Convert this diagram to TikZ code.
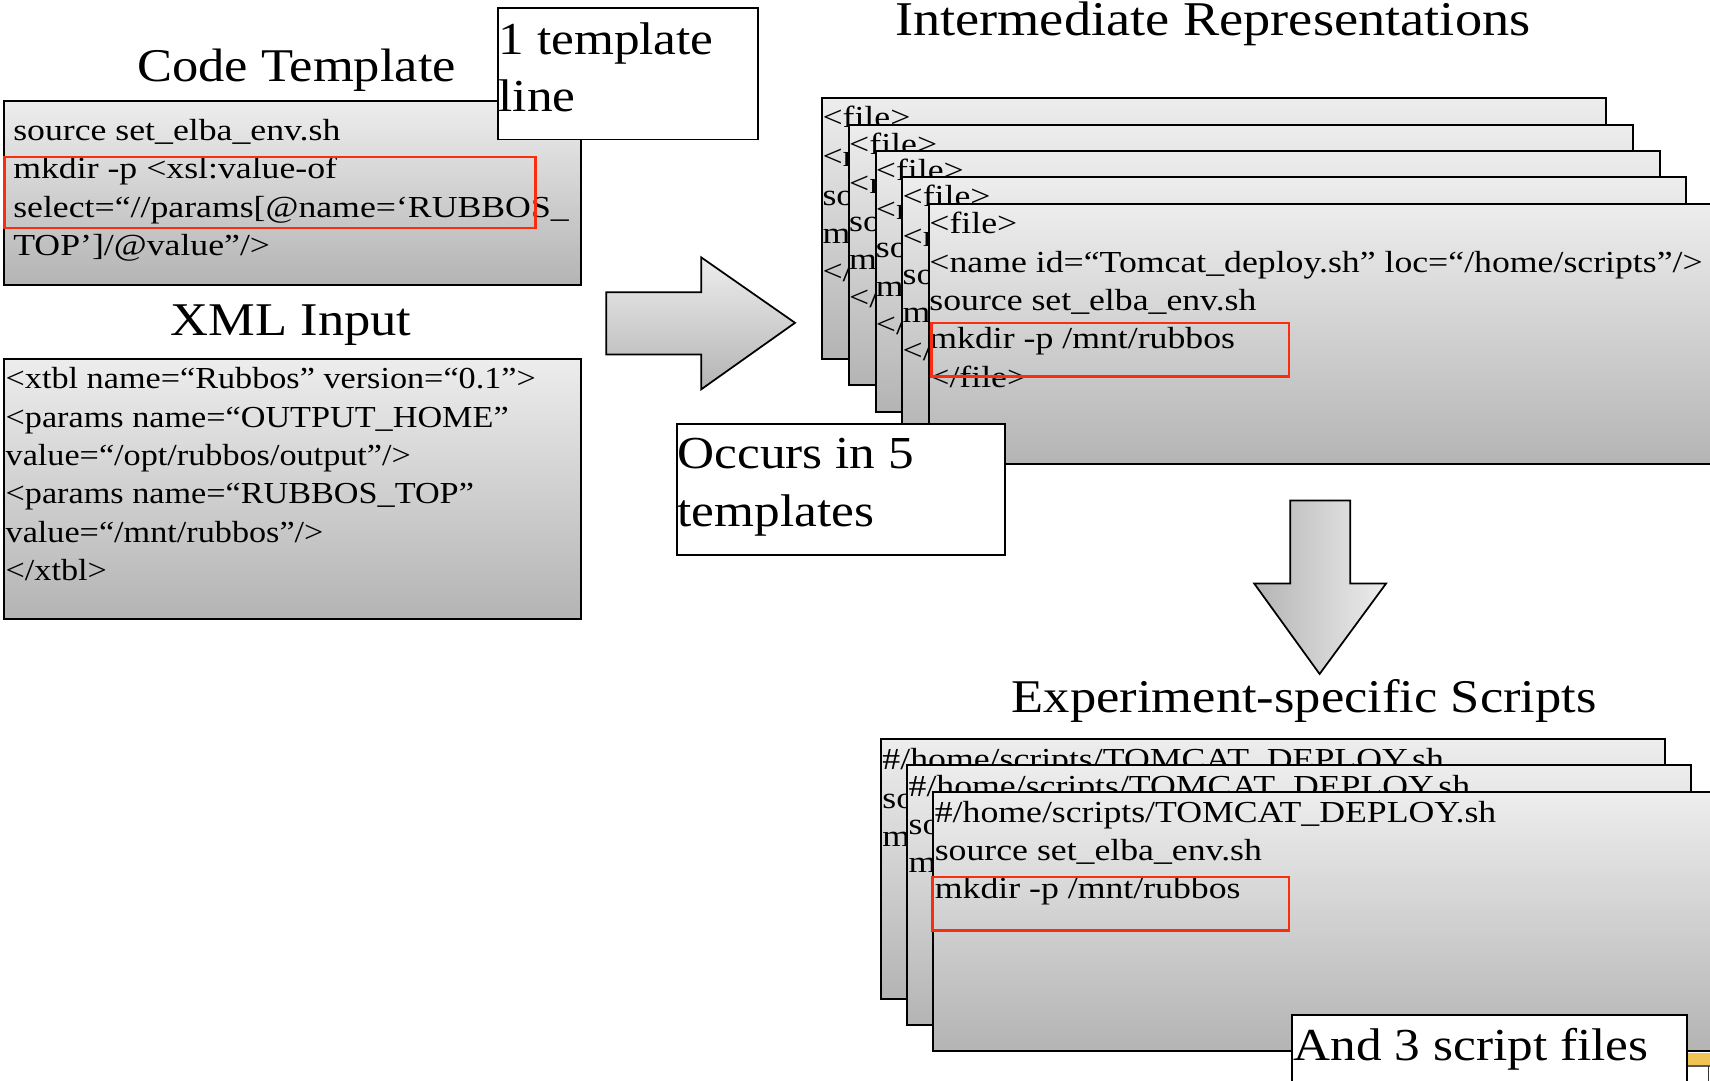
\documentclass[tikz,border=0pt]{standalone}
\usepackage{fontspec}
\setmainfont[FakeStretch=1.12]{Liberation Serif}
\newfontfamily\widefont[FakeStretch=1.17]{Liberation Serif}
\usetikzlibrary{calc}

\definecolor{boxtop}{RGB}{237,237,237}
\definecolor{boxbot}{RGB}{180,180,180}
\definecolor{hired}{RGB}{250,45,15}
\definecolor{winyellow}{RGB}{240,196,84}

\newcommand\codefont{\fontsize{28}{34}\selectfont}
\newcommand\widecodefont{\widefont\fontsize{28}{34}\selectfont}
\newcommand\bigfont{\fontsize{42}{52}\selectfont}
\newcommand\headfont{\fontsize{43}{52}\selectfont}

\tikzset{
  gbox/.style={draw=black, line width=1.8pt, top color=boxtop, bottom color=boxbot,
               inner sep=0pt, anchor=north west},
  wbox/.style={draw=black, line width=1.8pt, fill=white, inner sep=0pt, anchor=north west},
  hlbox/.style={draw=hired, line width=2.2pt, inner sep=0pt, anchor=north west},
  code/.style={font=\codefont, inner sep=0pt, anchor=base west},
  wcode/.style={font=\widecodefont, inner sep=0pt, anchor=base west},
  big/.style={font=\bigfont, inner sep=0pt, anchor=base west},
  head/.style={font=\headfont, inner sep=0pt, anchor=base},
  blockarrow/.style={draw=black, line width=1.6pt, line join=miter},
}

\begin{document}
\begin{tikzpicture}[x=1pt, y=-1pt]
\useasboundingbox (0,0) rectangle (1568,991);

% ---------- Code template ----------
\node[head] (cttitle) at (272,75) {Code Template};
\node[gbox, minimum width=529pt, minimum height=168pt] (ct) at (3,92) {};
\node[wcode] (ct1) at (12,129) {source set\_elba\_env.sh};
\node[wcode] (ct2) at (12,164) {mkdir -p <xsl:value-of};
\node[wcode] (ct3) at (12,199) {select=“//params[@name=‘RUBBOS\_};
\node[wcode] (ct4) at (12,234) {TOP’]/@value”/>};
\node[hlbox, minimum width=487pt, minimum height=65pt] (cthl) at (3,143) {};

% label: one template line
\node[wbox, minimum width=238pt, minimum height=121pt] (lblline) at (456,6) {};
\node[big] (lblline1) at (457,50) {1 template};
\node[big] (lblline2) at (457,102) {line};

% ---------- XML input ----------
\node[head] (xmltitle) at (267,308) {XML Input};
\node[gbox, minimum width=529pt, minimum height=239pt] (xml) at (3,328) {};
\node[code] (x1) at (5,356) {<xtbl name=“Rubbos” version=“0.1”>};
\node[code] (x2) at (5,392) {<params name=“OUTPUT\_HOME”};
\node[code] (x3) at (5,427) {value=“/opt/rubbos/output”/>};
\node[code] (x4) at (5,462) {<params name=“RUBBOS\_TOP”};
\node[code] (x5) at (5,497) {value=“/mnt/rubbos”/>};
\node[code] (x6) at (5,532) {</xtbl>};

% ---------- right block arrow ----------
\path[blockarrow, top color=boxtop, bottom color=boxbot]
  (556,268) -- (643,268) -- (643,236) -- (729,296) -- (643,357)
  -- (643,325) -- (556,325) -- cycle;

% ---------- intermediate representations ----------
\node[head, font=\fontsize{44.5}{52}\selectfont] (irtitle) at (1112,33) {Intermediate Representations};
\foreach \i/\x/\y in {1/753/89, 2/777.5/113.3, 3/802/137.5, 4/826.5/161.8, 5/851/186}{
  \node[gbox, minimum width=719pt, minimum height=239pt] (ir\i) at (\x,\y) {};
  \node[wcode] (ir\i a) at (\x+1,\y+28) {<file>};
  \node[wcode] (ir\i b) at (\x+1,\y+64) {<name id=“Tomcat\_deploy.sh” loc=“/home/scripts”/>};
  \node[wcode] (ir\i c) at (\x+1,\y+99) {source set\_elba\_env.sh};
  \node[wcode] (ir\i d) at (\x+1,\y+134) {mkdir -p /mnt/rubbos};
  \node[wcode] (ir\i e) at (\x+1,\y+169) {</file>};
}
\node[hlbox, minimum width=328pt, minimum height=49pt] (irhl) at (853,295) {};

% label: occurs in five templates
\node[wbox, minimum width=301pt, minimum height=120pt] (lblocc) at (620,388) {};
\node[big] (lblocc1) at (621,430) {Occurs in 5};
\node[big] (lblocc2) at (621,483) {templates};

% ---------- down block arrow ----------
\path[blockarrow, left color=boxbot, right color=boxtop]
  (1183,459) -- (1238,459) -- (1238,535) -- (1271,535) -- (1210,618)
  -- (1150,535) -- (1183,535) -- cycle;

% ---------- experiment-specific scripts ----------
\node[head] (sctitle) at (1196,653) {Experiment-specific Scripts};
\foreach \i/\x/\y in {1/807/677, 2/831/701, 3/855/725}{
  \node[gbox, minimum width=719pt, minimum height=238pt] (sc\i) at (\x,\y) {};
  \node[wcode] (sc\i a) at (\x+2,\y+29) {\#/home/scripts/TOMCAT\_DEPLOY.sh};
  \node[wcode] (sc\i b) at (\x+2,\y+64) {source set\_elba\_env.sh};
  \node[wcode] (sc\i c) at (\x+2,\y+99) {mkdir -p /mnt/rubbos};
}
\node[hlbox, minimum width=327pt, minimum height=49pt] (schl) at (854,803) {};

% window edge peeking in at the lower right
\node[inner sep=0pt, anchor=north west, fill=winyellow, minimum width=22pt, minimum height=12pt] (win) at (1547,965) {};
\draw[gray!70!black, line width=1.2pt] (win.south west) -- (win.south east);
\draw[black!80, line width=1.2pt] ($(win.south east)+(-3,0)$) -- ++(0,14);

% label: and three script files
\node[wbox, minimum width=362pt, minimum height=80pt] (lblsc) at (1184,930) {};
\node[big] (lblsc1) at (1186,972) {And 3 script files};
\end{tikzpicture}
\end{document}
